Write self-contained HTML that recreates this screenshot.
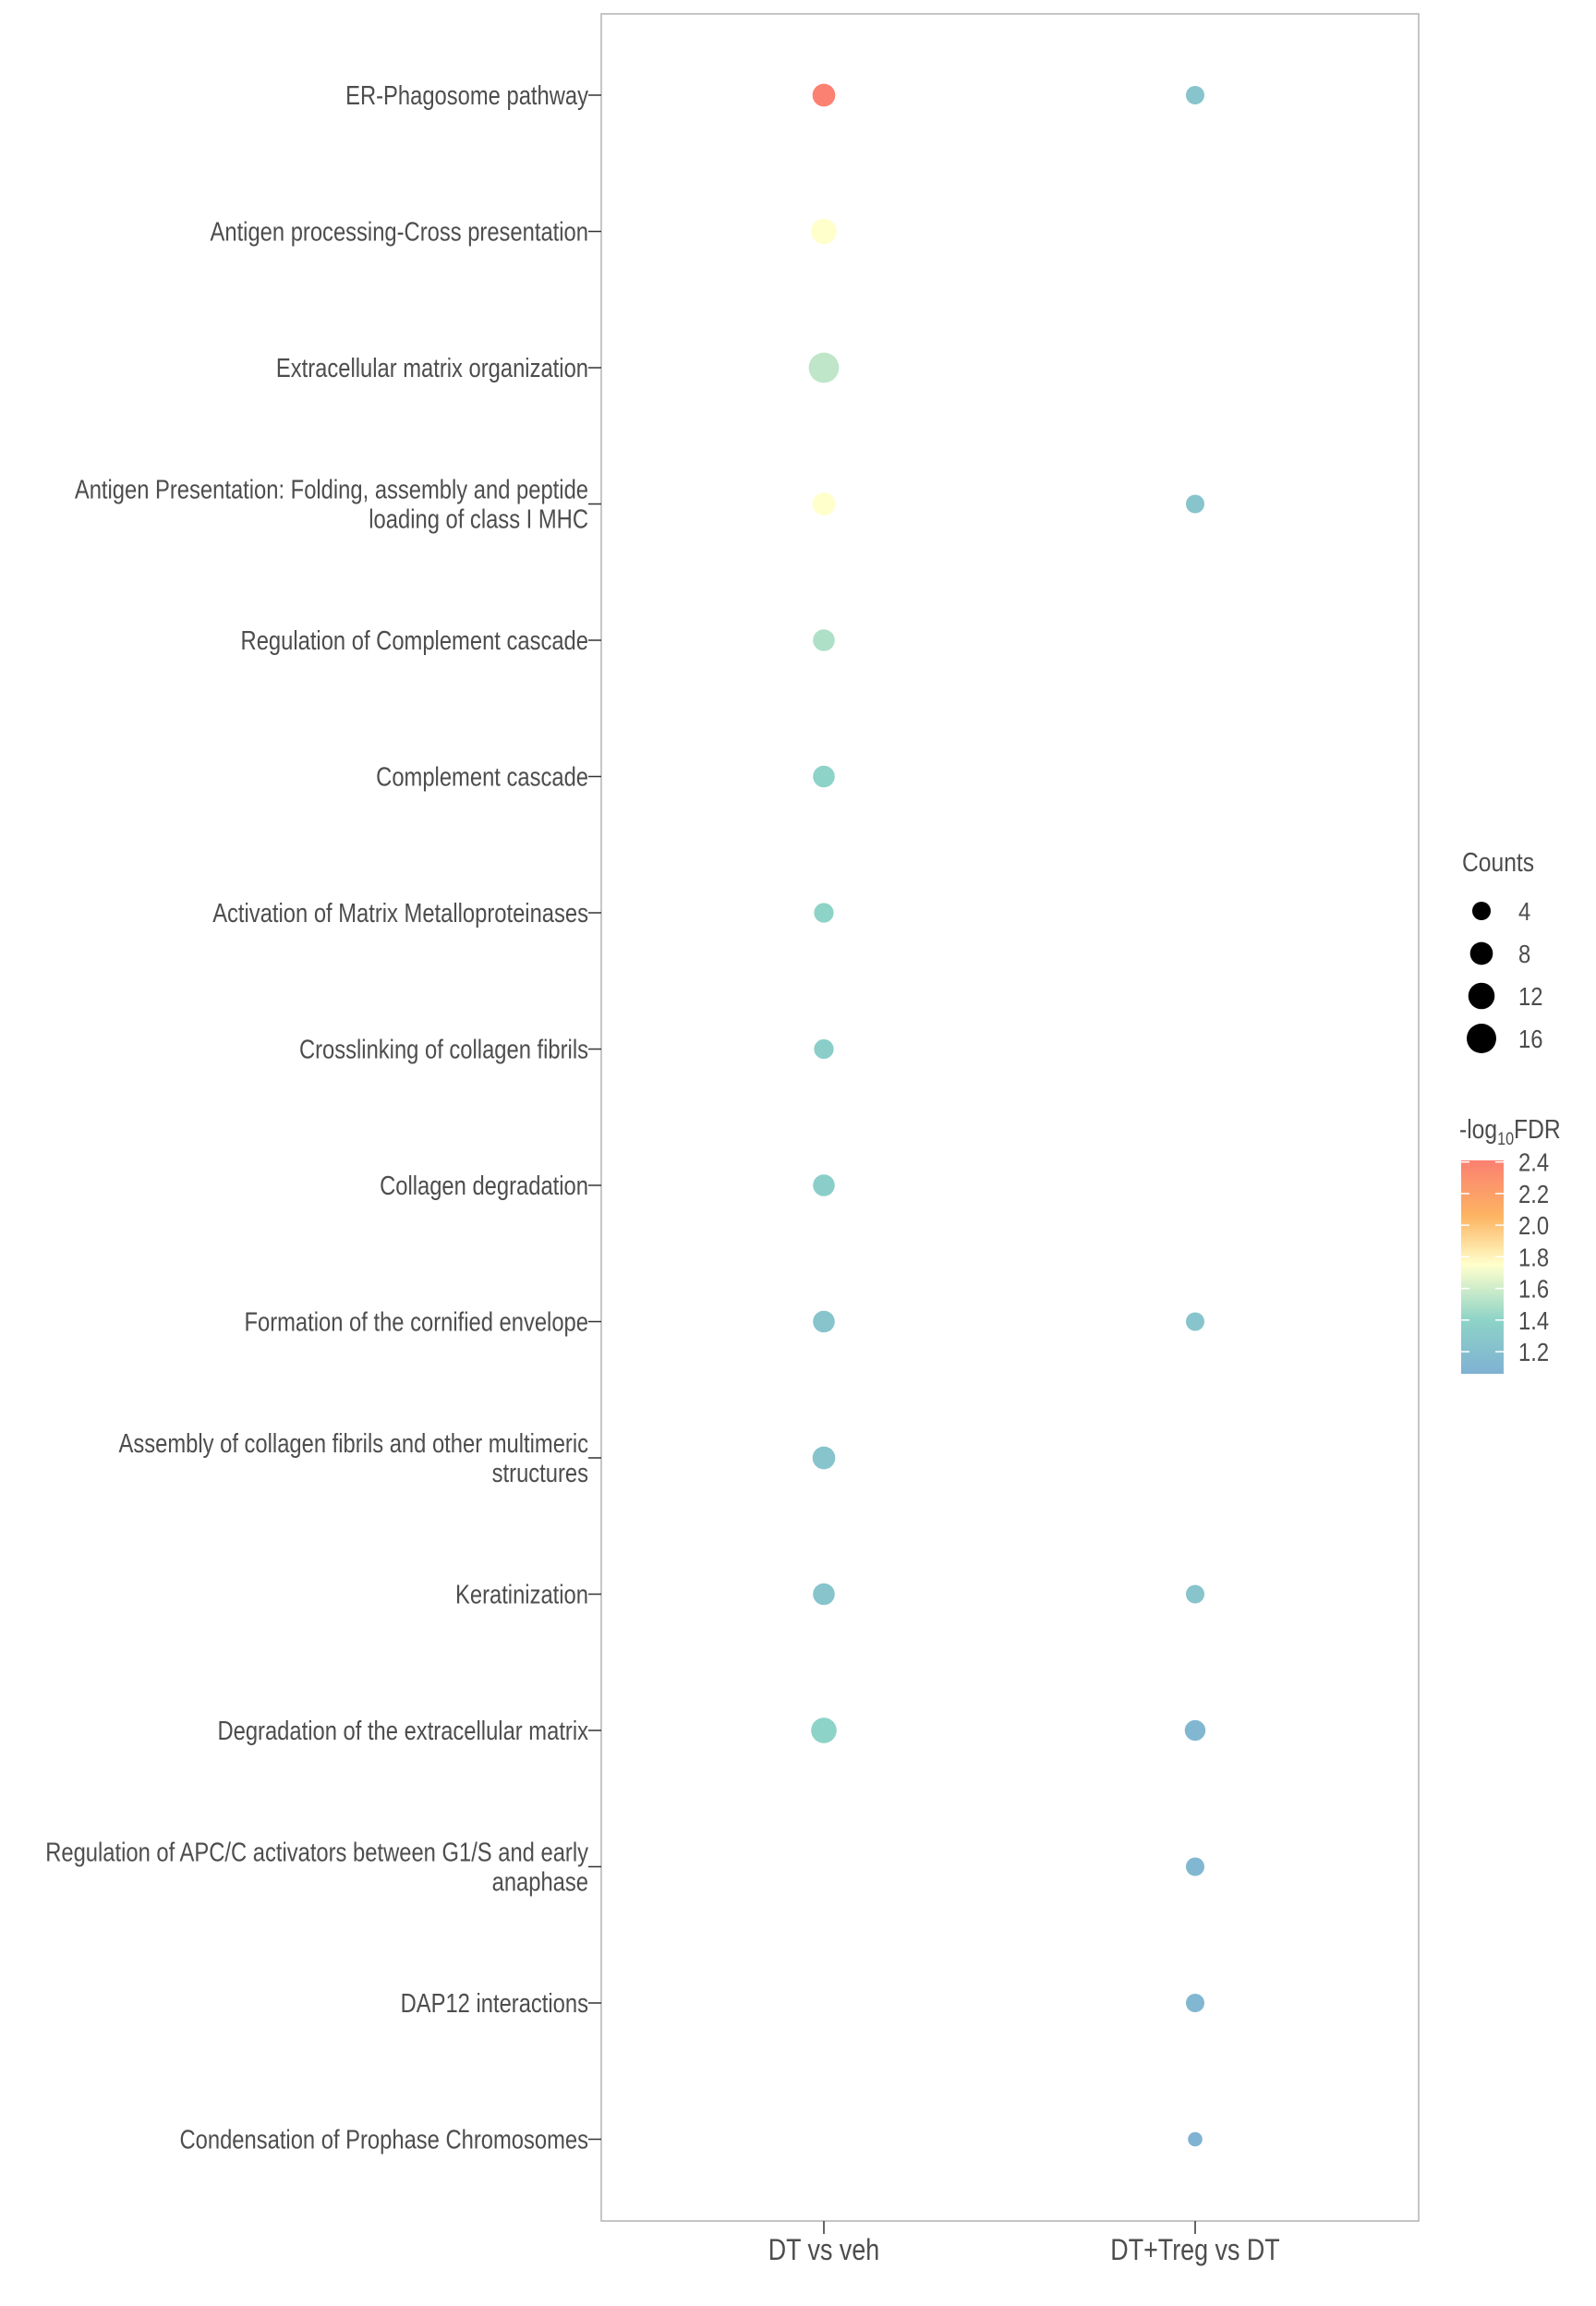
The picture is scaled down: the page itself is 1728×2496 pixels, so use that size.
<!DOCTYPE html>
<html><head><meta charset="utf-8"><style>
html,body{margin:0;padding:0;background:#fff}
svg{display:block}
text{font-family:"Liberation Sans",sans-serif;fill:#4d4d4d}
</style></head><body>
<svg id="chart" width="1728" height="2496" viewBox="0 0 1728 2496" xmlns="http://www.w3.org/2000/svg">
<defs>
<linearGradient id="cbar" x1="0" y1="1" x2="0" y2="0">
<stop offset="0" stop-color="#80b1d3"/>
<stop offset="0.25" stop-color="#8dd3c7"/>
<stop offset="0.51" stop-color="#ffffcc"/>
<stop offset="0.74" stop-color="#fdb462"/>
<stop offset="1" stop-color="#fb8072"/>
</linearGradient>
</defs>
<rect x="651" y="15" width="885" height="2389" fill="#fff" stroke="#b3b3b3" stroke-width="1.5"/>
<g id="yaxis"></g>
<g id="xaxis"></g>
<g id="dots"></g>
<g id="legend">
<text x="1583" y="943" font-size="29" transform="translate(1583,0) scale(0.85,1) translate(-1583,0)">Counts</text>
<text x="1580" y="1232" font-size="29" transform="translate(1580,0) scale(0.85,1) translate(-1580,0)">-log<tspan font-size="19" dy="7">10</tspan><tspan dy="-7">FDR</tspan></text>
<rect id="cbrect" x="1582" y="1256" width="46" height="231" fill="url(#cbar)"/>
</g>
</svg>
<script>
const categories = ["ER-Phagosome pathway","Antigen processing-Cross presentation","Extracellular matrix organization","Antigen Presentation: Folding, assembly and peptide|loading of class I MHC","Regulation of Complement cascade","Complement cascade","Activation of Matrix Metalloproteinases","Crosslinking of collagen fibrils","Collagen degradation","Formation of the cornified envelope","Assembly of collagen fibrils and other multimeric|structures","Keratinization","Degradation of the extracellular matrix","Regulation of APC/C activators between G1/S and early|anaphase","DAP12 interactions","Condensation of Prophase Chromosomes"];
const groups = ["DT vs veh","DT+Treg vs DT"];
const countsDT = [8,11,17,8,7,7,5,5,7,7,8,7,11,null,null,null];
const fdrDT = [2.4,1.75,1.55,1.75,1.5,1.4,1.4,1.35,1.35,1.25,1.25,1.25,1.4,null,null,null];
const countsTreg = [4,null,null,4,null,null,null,null,null,4,null,4,6,4,4,1];
const fdrTreg = [1.25,null,null,1.25,null,null,null,null,null,1.25,null,1.25,1.12,1.12,1.12,1.07];
const sizeLegend = [4,8,12,16];
const colorTicks = [2.4,2.2,2.0,1.8,1.6,1.4,1.2];

const NS="http://www.w3.org/2000/svg";
function mk(tag,attrs,parent){const e=document.createElementNS(NS,tag);for(const k in attrs)e.setAttribute(k,attrs[k]);parent.appendChild(e);return e;}
const yScale=i=>103+i*147.5;
const xScale=j=>892+j*402;
const rScale=c=>Math.sqrt(48+13*c);
const cMin=1.06,cMax=2.41;
const cbTop=1256,cbBot=1487;
const cbY=v=>cbBot-(v-cMin)/(cMax-cMin)*(cbBot-cbTop);
const stops=[[0,[0x80,0xb1,0xd3]],[0.25,[0x8d,0xd3,0xc7]],[0.51,[0xff,0xff,0xcc]],[0.74,[0xfd,0xb4,0x62]],[1,[0xfb,0x80,0x72]]];
function color(v){let t=Math.max(0,Math.min(1,(v-cMin)/(cMax-cMin)));for(let i=1;i<stops.length;i++){if(t<=stops[i][0]){const a=stops[i-1],b=stops[i];const f=(t-a[0])/(b[0]-a[0]);const c=a[1].map((x,k)=>Math.round(x+(b[1][k]-x)*f));return `rgb(${c.join(',')})`;}}return 'rgb(251,128,114)';}

const yax=document.getElementById('yaxis');
categories.forEach((cat,i)=>{
  const y=yScale(i);
  const t=mk('line',{x1:637,x2:651,y1:y,y2:y,stroke:'#333',"stroke-width":1.5},yax);
  
  
  const lines=cat.split('|');
  const tx=mk('text',{"font-size":29,"text-anchor":"end",transform:`translate(637,0) scale(0.82,1)`},yax);
  
  
  const y0=y+10-(lines.length-1)*16;
  lines.forEach((l,k)=>{const ts=mk('tspan',{x:0,y:y0+k*32},tx);ts.textContent=l;});
});
const xax=document.getElementById('xaxis');
groups.forEach((g,j)=>{
  const x=xScale(j);
  const t=mk('line',{x1:x,x2:x,y1:2404,y2:2418,stroke:'#333',"stroke-width":1.5},xax);
  
  
  const tx=mk('text',{"font-size":32,"text-anchor":"middle",transform:`translate(${x},2446) scale(0.84,1)`},xax);
  
  
  tx.textContent=g;
});
const dots=document.getElementById('dots');
[[countsDT,fdrDT],[countsTreg,fdrTreg]].forEach(([cs,fs],j)=>{
  cs.forEach((c,i)=>{
    if(c==null)return;
    const d=mk('circle',{cx:xScale(j),cy:yScale(i),r:rScale(c),fill:color(fs[i])},dots);
    
    
  });
});
const leg=document.getElementById('legend');
sizeLegend.forEach((c,k)=>{
  const y=986+k*46;
  const d=mk('circle',{cx:1604,cy:y,r:rScale(c),fill:'#000'},leg);
  
  
  const t=mk('text',{"font-size":28,transform:`translate(1644,${y+10}) scale(0.85,1)`},leg);
  
  
  t.textContent=c;
});
colorTicks.forEach(v=>{
  const y=cbY(v);
  const a=mk('line',{x1:1582,x2:1591,y1:y,y2:y,stroke:'#fff',"stroke-width":1.5},leg);
  
  
  const b=mk('line',{x1:1619,x2:1628,y1:y,y2:y,stroke:'#fff',"stroke-width":1.5},leg);
  
  
  const t=mk('text',{"font-size":28,transform:`translate(1644,${y+10}) scale(0.85,1)`},leg);
  
  
  t.textContent=v.toFixed(1);
});
</script>
</body></html>
